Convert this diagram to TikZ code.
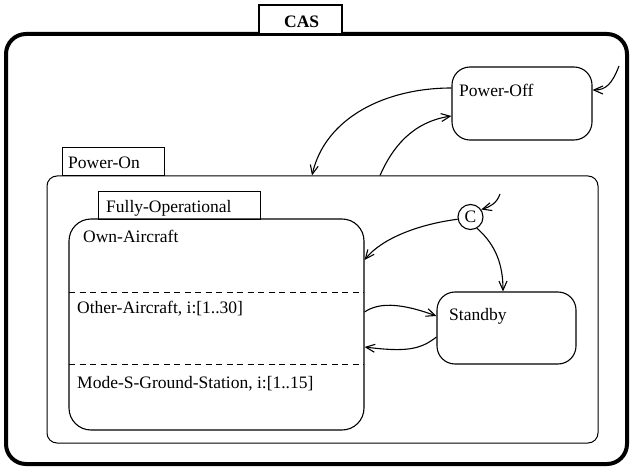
\documentclass[tikz,border=0pt]{standalone}
\usepackage{fontspec}
\setmainfont{Liberation Serif}
\usetikzlibrary{arrows.meta}
\begin{document}
\begin{tikzpicture}[x=1pt,y=-1pt,
  every node/.style={font=\fontsize{17.5}{20}\selectfont},
  box/.style={draw, rectangle, inner sep=0pt, line width=1.1pt},
  lbl/.style={anchor=base west, inner sep=0pt},
  arr/.style={line width=1.1pt, -{Straight Barb[length=9pt,width=8pt,line width=1.1pt]}},
  dsh/.style={line width=0.9pt, dash pattern=on 6pt off 4.5pt}
]
\useasboundingbox (0,0) rectangle (632,468);
% outer CAS
\node[box, line width=4pt, rounded corners=20pt, minimum width=621pt, minimum height=430pt] (cas) at (316.5,249) {};
\node[box, line width=2.5pt, fill=white, minimum width=83pt, minimum height=29pt] (caslbl) at (300.5,19.5) {};
\node[lbl, font=\fontsize{17.5}{20}\selectfont\bfseries] (castxt) at (284,28) {CAS};
% Power-Off
\node[box, rounded corners=18pt, minimum width=140pt, minimum height=73pt] (off) at (522,103.5) {};
\node[lbl] (offtxt) at (459,97) {Power-Off};
% Power-On
\node[box, line width=1pt, rounded corners=10pt, minimum width=551pt, minimum height=267pt] (pon) at (322.5,309.5) {};
\node[box, line width=1pt, minimum width=102pt, minimum height=28pt] (ponlbl) at (113,162) {};
\node[lbl] (pontxt) at (68,168) {Power-On};
% Fully-Operational
\node[box, rounded corners=22pt, minimum width=295pt, minimum height=211pt] (fo) at (216.5,324.5) {};
\node[box, line width=1pt, minimum width=162pt, minimum height=28pt] (folbl) at (179,205) {};
\node[lbl] (fotxt) at (106,212) {Fully-Operational};
\coordinate (d1w) at (69,292); \coordinate (d1e) at (364,292);
\coordinate (d2w) at (69,364); \coordinate (d2e) at (364,364);
\draw[dsh] (d1w) -- (d1e);
\draw[dsh] (d2w) -- (d2e);
\node[lbl] (own) at (83,242) {Own-Aircraft};
\node[lbl] (other) at (77,313) {Other-Aircraft, i:[1..30]};
\node[lbl] (mode) at (77,388) {Mode-S-Ground-Station, i:[1..15]};
% Standby
\node[box, rounded corners=18pt, minimum width=139pt, minimum height=72pt] (stb) at (506.5,328) {};
\node[lbl] (stbtxt) at (449,320.5) {Standby};
% C connector
\node[draw, circle, line width=1.1pt, minimum size=25pt, inner sep=0pt] (C) at (470.5,217) {C};
% default arrows
\coordinate (offinit) at (619,66);
\draw[arr] (offinit) .. controls (612,84) and (606,90) .. ([yshift=13.5pt]off.east);
\coordinate (cinit) at (500,194);
\draw[arr] (cinit) .. controls (497,203) and (490,207) .. (C.35);
% transitions
\draw[arr] ([yshift=15.5pt]off.west) .. controls (385,88) and (325,118) .. ([xshift=-10.5pt]pon.north);
\draw[arr] ([xshift=57.5pt]pon.north) .. controls (392,148) and (412,122) .. ([yshift=-12.5pt]off.west);
\draw[arr] (C.190) .. controls (420,224) and (382,238) .. ([yshift=64.5pt]fo.east);
\draw[arr] (C.-60) .. controls (496,245) and (503,265) .. ([xshift=-3.5pt]stb.north);
\draw[arr] ([yshift=12.5pt]fo.east) .. controls (378,303) and (398,302) .. ([yshift=12pt]stb.west);
\draw[arr] ([yshift=-9pt]stb.west) .. controls (420,350) and (405,352) .. ([yshift=-22.5pt]fo.east);
\end{tikzpicture}
\end{document}
